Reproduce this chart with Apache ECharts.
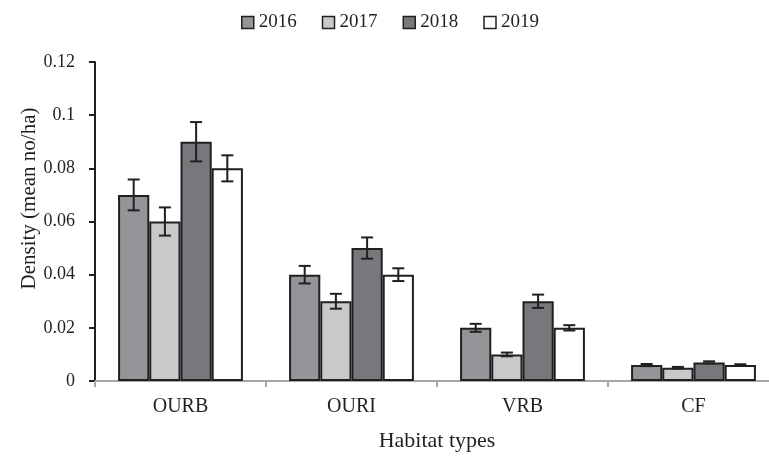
<!DOCTYPE html>
<html><head><meta charset="utf-8">
<script src="https://cdn.jsdelivr.net/npm/echarts@6/dist/echarts.min.js"></script>
<style>html,body{margin:0;padding:0;background:#fff;overflow:hidden;width:769px;height:457px}#c{width:779px;height:457px}</style>
</head><body><div id="c"></div>
<script>
const categories = ['OURB', 'OURI', 'VRB', 'CF'];
const years = ['2016', '2017', '2018', '2019'];
const v2016 = [0.07, 0.04, 0.02, 0.006];
const v2017 = [0.06, 0.03, 0.01, 0.005];
const v2018 = [0.09, 0.05, 0.03, 0.007];
const v2019 = [0.08, 0.04, 0.02, 0.006];
const e2016 = [0.0058, 0.0033, 0.0015, 0.0004];
const e2017 = [0.0053, 0.0028, 0.0007, 0.0003];
const e2018 = [0.0074, 0.0040, 0.0025, 0.0004];
const e2019 = [0.0049, 0.0024, 0.0010, 0.0003];
const yTicks = ['0', '0.02', '0.04', '0.06', '0.08', '0.1', '0.12'];

const values = [v2016, v2017, v2018, v2019];
const errors = [e2016, e2017, e2018, e2019];
const colors = ['#939598', '#c8c9cb', '#77787b', '#ffffff'];
const font = '"Liberation Serif", "DejaVu Serif", serif';
const ink = '#231f20';

const series = [];
years.forEach((y, i) => {
  series.push({
    name: y, type: 'bar', data: values[i],
    barGap: '0%', barCategoryGap: '27%',
    itemStyle: { color: colors[i], borderColor: ink, borderWidth: 2 }
  });
});
years.forEach((y, i) => {
  series.push({
    type: 'custom', name: y + ' err',
    data: values[i].map((v, k) => [k, v - errors[i][k], v + errors[i][k]]),
    encode: { x: 0, y: [1, 2] },
    z: 10,
    renderItem: function (params, api) {
      const k = api.value(0);
      const lo = api.coord([k, api.value(1)]);
      const hi = api.coord([k, api.value(2)]);
      const band = api.size([1, 0])[0];
      const bw = band * 0.73 / 4;
      const x = lo[0] - band * 0.73 / 2 + bw * (i + 0.5);
      const h = 6;
      const st = { stroke: ink, lineWidth: 2 };
      return { type: 'group', children: [
        { type: 'line', shape: { x1: x, y1: lo[1], x2: x, y2: hi[1] }, style: st },
        { type: 'line', shape: { x1: x - h, y1: lo[1], x2: x + h, y2: lo[1] }, style: st },
        { type: 'line', shape: { x1: x - h, y1: hi[1], x2: x + h, y2: hi[1] }, style: st }
      ]};
    }
  });
});

const chart = echarts.init(document.getElementById('c'), null, { renderer: 'canvas' });
chart.setOption({
  animation: false,
  textStyle: { fontFamily: font },
  legend: {
    data: years.map((y, i) => ({ name: y, itemStyle: { color: colors[i], borderColor: ink, borderWidth: 1.5 } })),
    top: 8, left: 236, itemWidth: 12, itemHeight: 12, itemGap: 25,
    icon: 'rect',
    textStyle: { fontFamily: font, fontSize: 19, color: ink }
  },
  grid: { left: 95, right: 0, top: 62, bottom: 76, containLabel: false },
  xAxis: {
    type: 'category', data: categories,
    name: 'Habitat types', nameLocation: 'middle', nameGap: 49,
    nameMoveOverlap: false,
    nameTextStyle: { fontFamily: font, fontSize: 22, color: ink },
    axisLine: { lineStyle: { color: '#a6a6a6', width: 2 } },
    axisTick: { show: true, length: 6, lineStyle: { color: '#a6a6a6', width: 2 } },
    axisLabel: { fontFamily: font, fontSize: 20, color: ink, margin: 16 }
  },
  yAxis: {
    type: 'value', min: 0, max: 0.12, interval: 0.02,
    name: 'Density (mean no/ha)', nameLocation: 'middle', nameGap: 55,
    nameMoveOverlap: false,
    nameTextStyle: { fontFamily: font, fontSize: 21, color: ink, padding: [0, 0, 0, 46] },
    axisLine: { show: true, lineStyle: { color: ink, width: 2 } },
    axisTick: { show: true, length: 6, lineStyle: { color: ink, width: 2 } },
    splitLine: { show: false },
    axisLabel: {
      fontFamily: font, fontSize: 18, color: ink, margin: 20,
      formatter: function (v) { return yTicks[Math.round(v / 0.02)]; }
    }
  },
  series: series
});
</script></body></html>
